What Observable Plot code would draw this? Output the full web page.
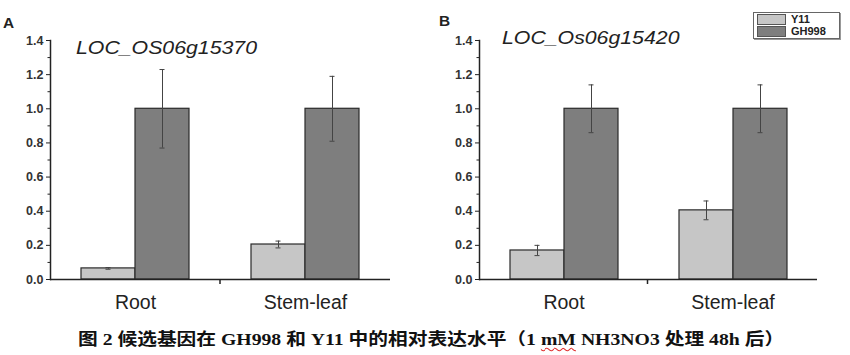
<!DOCTYPE html>
<html><head><meta charset="utf-8">
<script src="https://cdn.jsdelivr.net/npm/d3@7"></script>
<script src="https://cdn.jsdelivr.net/npm/@observablehq/plot@0.6"></script>
<style>
body{margin:0;background:#fff;}
#wrap{position:relative;width:850px;height:355px;overflow:hidden;font-family:"Liberation Sans",Arial,sans-serif;color:#222;}
.abs{position:absolute;white-space:nowrap;line-height:1;}
.panel{position:absolute;top:0;}
</style></head><body><div id="wrap"></div>
<script>
// ---- data ----
const categories = ["Root", "Stem-leaf"];
const series = ["Y11", "GH998"];
const seriesColors = ["#c6c6c6", "#7e7e7e"];
const panelLetters = ["A", "B"];
const geneNames = ["LOC_OS06g15370", "LOC_Os06g15420"];
// Panel A (LOC_OS06g15370): values per category [Root, Stem-leaf]
const aY11 = [0.065, 0.205];
const aY11Err = [0.005, 0.02];
const aGH998 = [1.0, 1.0];
const aGH998Err = [0.23, 0.19];
// Panel B (LOC_Os06g15420)
const bY11 = [0.17, 0.405];
const bY11Err = [0.03, 0.055];
const bGH998 = [1.0, 1.0];
const bGH998Err = [0.14, 0.14];
const yTicks = [0, 0.2, 0.4, 0.6, 0.8, 1.0, 1.2, 1.4];
const yMinorTicks = [0.1, 0.3, 0.5, 0.7, 0.9, 1.1, 1.3];
const captionText = "图 2  候选基因在 GH998 和 Y11 中的相对表达水平（1 mM NH3NO3 处理 48h 后）";

function rowsFor(y11, y11e, gh, ghe) {
  const out = [];
  categories.forEach((c, i) => {
    out.push({category: c, series: series[0], value: y11[i], err: y11e[i]});
    out.push({category: c, series: series[1], value: gh[i], err: ghe[i]});
  });
  return out;
}

const W = 425, H = 315;
function makePanel(rows, ml, mr) {
  const chart = Plot.plot({
    width: W, height: H,
    marginLeft: ml, marginRight: mr, marginTop: 40, marginBottom: 36,
    style: {background: "transparent", fontFamily: "'Liberation Sans', Arial, sans-serif", color: "#222", overflow: "visible"},
    fx: {domain: categories, padding: 0, label: null},
    x: {domain: series, paddingInner: 0, paddingOuter: 0.56, axis: null},
    y: {domain: [0, 1.4], label: null},
    color: {domain: series, range: seriesColors},
    marks: [
      Plot.barY(rows, {fx: "category", x: "series", y: "value", fill: "series", stroke: "#2a2a2a", strokeWidth: 1.2}),
      Plot.ruleX(rows, {fx: "category", x: "series", y1: d => d.value - d.err, y2: d => d.value + d.err, stroke: "#444", strokeWidth: 1}),
      Plot.tickY(rows, {fx: "category", x: "series", y: d => d.value + d.err, stroke: "#444", strokeWidth: 1, insetLeft: 24.5, insetRight: 24.5}),
      Plot.tickY(rows, {fx: "category", x: "series", y: d => d.value - d.err, stroke: "#444", strokeWidth: 1, insetLeft: 24.5, insetRight: 24.5}),
      Plot.ruleY([0], {stroke: "#222", strokeWidth: 1.5}),
      Plot.frame({anchor: "left", facetAnchor: "left", stroke: "#222", strokeWidth: 1.5}),
      Plot.axisY({ticks: yTicks, tickFormat: d3.format(".1f"), tickSize: 4, tickPadding: 3, fontSize: 12.5, fontWeight: "bold", fill: "#333", label: null}),
      Plot.axisY({ticks: yMinorTicks, tickSize: 2.5, tickFormat: () => "", label: null}),
      Plot.axisFx({anchor: "bottom", tickSize: 0, tickPadding: 16, fontSize: 19.5, fill: "#222", label: null})
    ]
  });
  // small tick at the boundary between the two category groups, below the baseline
  const y0 = chart.scale("y").apply(0);
  const xm = ml + (W - ml - mr) / 2;
  d3.select(chart).append("line")
    .attr("x1", xm).attr("x2", xm).attr("y1", y0).attr("y2", y0 + 5)
    .attr("stroke", "#222").attr("stroke-width", 1.5);
  return chart;
}

const wrap = document.getElementById("wrap");
const panels = [
  {rows: rowsFor(aY11, aY11Err, aGH998, aGH998Err), left: 0, ml: 50, mr: 35},
  {rows: rowsFor(bY11, bY11Err, bGH998, bGH998Err), left: 425, ml: 53, mr: 33}
];
panels.forEach(p => {
  const div = document.createElement("div");
  div.className = "panel";
  div.style.left = p.left + "px";
  div.appendChild(makePanel(p.rows, p.ml, p.mr));
  wrap.appendChild(div);
});

function addText(txt, left, top, css) {
  const d = document.createElement("div");
  d.className = "abs";
  d.textContent = txt;
  d.style.left = left + "px";
  d.style.top = top + "px";
  Object.assign(d.style, css);
  wrap.appendChild(d);
  return d;
}
// panel letters
addText(panelLetters[0], 3, 16, {fontSize: "14px", fontWeight: "bold", transform: "scaleX(1.1)", transformOrigin: "left"});
addText(panelLetters[1], 439, 14, {fontSize: "14px", fontWeight: "bold", transform: "scaleX(1.1)", transformOrigin: "left"});
// gene titles
addText(geneNames[0], 76, 38, {fontSize: "19px", fontStyle: "italic", transform: "scaleX(1.12)", transformOrigin: "left"});
addText(geneNames[1], 502, 28, {fontSize: "19px", fontStyle: "italic", transform: "scaleX(1.12)", transformOrigin: "left"});

// legend
const leg = document.createElement("div");
leg.className = "abs";
Object.assign(leg.style, {left: "753px", top: "12px", width: "85px", height: "25px", border: "1px solid #666", boxShadow: "1px 1px 0 #999", background: "#fff"});
series.forEach((s, i) => {
  const row = document.createElement("div");
  Object.assign(row.style, {position: "absolute", left: "3px", top: (1 + i * 12) + "px", height: "11px", display: "flex", alignItems: "center"});
  const sw = document.createElement("div");
  Object.assign(sw.style, {width: "27px", height: "9px", background: seriesColors[i], border: "1px solid #555", marginRight: "5px"});
  const lb = document.createElement("span");
  lb.textContent = s;
  Object.assign(lb.style, {fontSize: "11px", fontWeight: "bold", lineHeight: "11px"});
  row.appendChild(sw); row.appendChild(lb);
  leg.appendChild(row);
});
wrap.appendChild(leg);

// caption
const cap = document.createElement("div");
cap.className = "abs";
Object.assign(cap.style, {left: "78px", top: "331px", fontSize: "17px", fontWeight: "bold", fontFamily: "'Liberation Serif', 'Noto Sans CJK SC', serif", color: "#111", transform: "scaleX(1.16)", transformOrigin: "left"});
const parts = captionText.split("mM");
cap.appendChild(document.createTextNode(parts[0]));
const mm = document.createElement("span");
mm.textContent = "mM";
Object.assign(mm.style, {textDecoration: "underline wavy #e03030", textDecorationThickness: "1px", textUnderlineOffset: "2px"});
cap.appendChild(mm);
cap.appendChild(document.createTextNode(parts[1]));
wrap.appendChild(cap);
</script>
</body></html>
